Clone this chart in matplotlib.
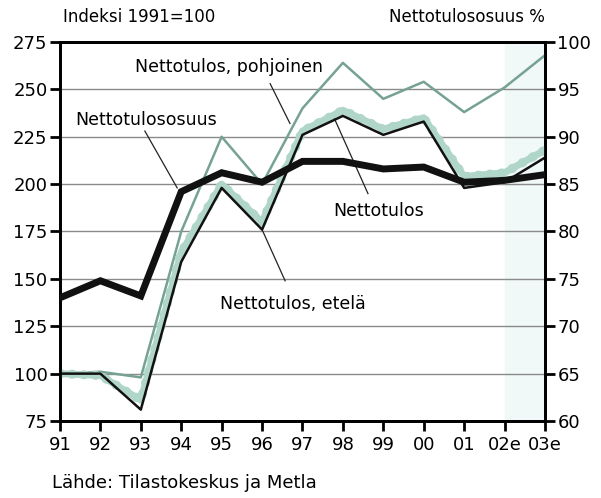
import numpy as np
import matplotlib.pyplot as plt

# x categories
years = ['91', '92', '93', '94', '95', '96', '97', '98', '99', '00', '01', '02e', '03e']

# left axis, index 1991=100
pohjoinen = [100, 101, 98, 175, 225, 200, 240, 264, 245, 254, 238, 251, 268]
nettotulos = [100, 99, 86, 164, 200, 180, 228, 239, 229, 235, 204, 206, 218]
etela = [100, 100, 81, 159, 198, 176, 226, 236, 226, 233, 198, 201, 214]

# right axis, %
osuus = [73.0, 74.8, 73.2, 84.2, 86.2, 85.2, 87.4, 87.4, 86.6, 86.8, 85.2, 85.4, 86.0]

x = np.arange(len(years))

fig = plt.figure(figsize=(6.01, 4.98), dpi=100)
ax = fig.add_axes([0.0998, 0.1546, 0.807, 0.7611])
ax2 = ax.twinx()

# forecast shading
ax.axvspan(x[-2], x[-1], color='#f1f8f8', zorder=0)

ax.set_xlim(x[0], x[-1])
ax.set_ylim(75, 275)
ax.set_yticks(range(75, 276, 25))
ax2.set_ylim(60, 100)
ax2.set_yticks(range(60, 101, 5))
ax.set_xticks(x)
ax.set_xticklabels(years)

ax.grid(axis='y', color='#8a8a8a', lw=1)
ax.set_axisbelow(True)

ax.plot(x, pohjoinen, color='#76a294', lw=1.8, zorder=3)
ax.plot(x, nettotulos, color='#b0d6ca', lw=5, zorder=4)
ax.plot(x, nettotulos, color='#b0d6ca', lw=6.5, ls=(0, (0.1, 1.2)),
        dash_capstyle='round', zorder=4)
ax.plot(x, etela, color='#111111', lw=1.8, zorder=5)
ax2.plot(x, osuus, color='#111111', lw=5, solid_joinstyle='miter', zorder=6)

for a in (ax, ax2):
    for s in a.spines.values():
        s.set_linewidth(2)
    a.tick_params(length=7, width=2, labelsize=13, pad=2)
ax.tick_params(axis='x', labelsize=13, pad=4)

fs = 12.5
ax.text(1.85, 259, 'Nettotulos, pohjoinen', fontsize=fs)
ax.plot([5.2, 5.69], [253, 232], color='#222222', lw=0.9)
ax.text(0.37, 231, 'Nettotulososuus', fontsize=fs)
ax.plot([2.1, 2.9], [228, 198], color='#222222', lw=0.9)
ax.text(6.75, 183, 'Nettotulos', fontsize=fs)
ax.plot([7.62, 6.76], [195, 236], color='#222222', lw=0.9)
ax.text(3.96, 134, 'Nettotulos, etelä', fontsize=fs)
ax.plot([5.57, 5.0], [149, 176], color='#222222', lw=0.9)

fig.text(0.105, 0.955, 'Indeksi 1991=100', fontsize=12)
fig.text(0.907, 0.955, 'Nettotulososuus %', fontsize=12, ha='right')
fig.text(0.087, 0.02, 'Lähde: Tilastokeskus ja Metla', fontsize=13)

fig.savefig('out.png', dpi=100)
